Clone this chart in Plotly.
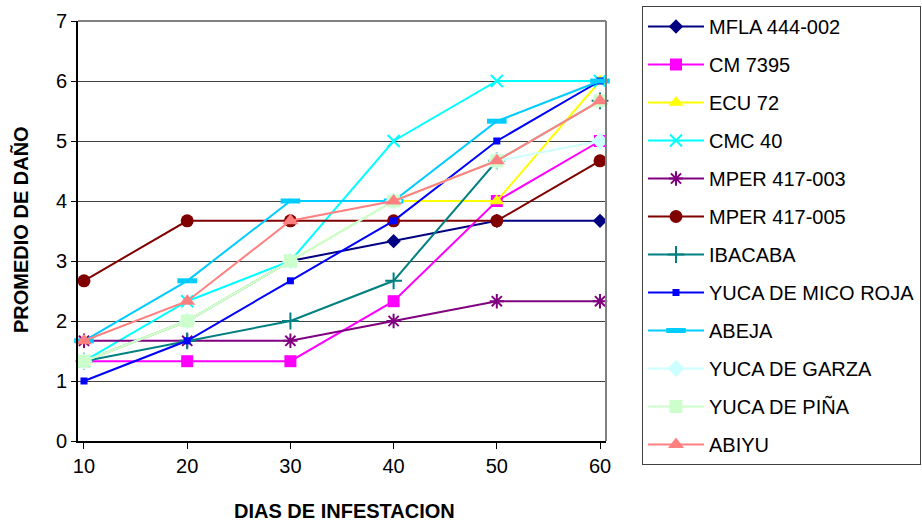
import plotly.graph_objects as go

dias = [10, 20, 30, 40, 50, 60]

series_names = ["MFLA 444-002", "CM 7395", "ECU 72", "CMC 40", "MPER 417-003",
                "MPER 417-005", "IBACABA", "YUCA DE MICO ROJA", "ABEJA",
                "YUCA DE GARZA", "YUCA DE PIÑA", "ABIYU"]

mfla_444_002 = [1.33, 2.0, 3.0, 3.33, 3.67, 3.67]
cm_7395 = [1.33, 1.33, 1.33, 2.33, 4.0, 5.0]
ecu_72 = [1.33, 2.0, 3.0, 4.0, 4.0, 6.0]
cmc_40 = [1.33, 2.33, 3.0, 5.0, 6.0, 6.0]
mper_417_003 = [1.67, 1.67, 1.67, 2.0, 2.33, 2.33]
mper_417_005 = [2.67, 3.67, 3.67, 3.67, 3.67, 4.67]
ibacaba = [1.33, 1.67, 2.0, 2.67, 4.67, 5.67]
yuca_mico_roja = [1.0, 1.67, 2.67, 3.67, 5.0, 6.0]
abeja = [1.67, 2.67, 4.0, 4.0, 5.33, 6.0]
yuca_garza = [1.33, 2.0, 3.0, 4.0, 4.67, 5.0]
yuca_pina = [1.33, 2.0, 3.0, 4.0, 4.67, 5.67]
abiyu = [1.67, 2.33, 3.67, 4.0, 4.67, 5.67]

values = [mfla_444_002, cm_7395, ecu_72, cmc_40, mper_417_003, mper_417_005,
          ibacaba, yuca_mico_roja, abeja, yuca_garza, yuca_pina, abiyu]

colors = ["#000080", "#FF00FF", "#FFFF00", "#00FFFF", "#800080", "#800000",
          "#008080", "#0000FF", "#00CCFF", "#CCFFFF", "#CCFFCC", "#FF8080"]

# (symbol, size, marker line width)
markers = [("diamond", 11, 0), ("square", 12, 0), ("triangle-up", 13, 0),
           ("x-thin-open", 12, 2), ("asterisk-open", 12, 2), ("circle", 13, 0),
           ("cross-thin-open", 12, 2), ("square", 7, 0), ("line-ew-open", 14, 5),
           ("diamond", 13, 0), ("square", 13, 0), ("triangle-up", 14, 0)]

FONT = "Arial, Liberation Sans, sans-serif"

fig = go.Figure()
for i, (name, vals, col, mk) in enumerate(zip(series_names, values, colors, markers)):
    sym, size, lw = mk
    fig.add_trace(go.Scatter(
        x=dias, y=vals, name=name, mode="lines+markers",
        line=dict(color=col, width=2),
        marker=dict(symbol=sym, size=size, color=col,
                    line=dict(color=col, width=lw)),
        cliponaxis=False, legendgroup=f"g{i}",
    ))

fig.update_layout(
    width=922, height=522,
    margin=dict(l=78, r=316, t=21, b=81, autoexpand=False),
    paper_bgcolor="white", plot_bgcolor="white",
    font=dict(family=FONT, size=20, color="black"),
    showlegend=True,
    legend=dict(
        xref="container", yref="container",
        x=642 / 922, xanchor="left",
        y=1 - 6 / 522, yanchor="top",
        bordercolor="#404040", borderwidth=1, bgcolor="white",
        font=dict(family=FONT, size=20, color="black"),
        tracegroupgap=9, itemwidth=56, maxheight=520,
    ),
)

fig.update_xaxes(
    range=[9.42, 60.58], tickmode="array", tickvals=dias,
    ticktext=[str(d) for d in dias],
    showgrid=False, zeroline=False,
    showline=True, linecolor="black", linewidth=2,
    ticks="outside", ticklen=6, tickcolor="black", tickwidth=1,
    tickfont=dict(size=20, family=FONT, color="black"),
)
fig.update_yaxes(
    range=[0, 7], dtick=1, tick0=0,
    showgrid=True, gridcolor="#404040", gridwidth=1, zeroline=False,
    showline=True, linecolor="black", linewidth=2,
    ticks="outside", ticklen=5, tickcolor="black", tickwidth=1,
    tickfont=dict(size=20, family=FONT, color="black"),
)

# plot-area border (top and right) in gray
fig.add_shape(type="line", xref="paper", yref="paper", x0=0, x1=1, y0=1, y1=1,
              line=dict(color="#808080", width=2), layer="above")
fig.add_shape(type="line", xref="paper", yref="paper", x0=1, x1=1, y0=0, y1=1,
              line=dict(color="#808080", width=2), layer="above")

fig.add_annotation(text="<b>DIAS DE INFESTACION</b>", xref="paper", yref="paper",
                   x=(344 - 78) / 528, y=0, yshift=-70, showarrow=False,
                   xanchor="center", yanchor="middle",
                   font=dict(size=20, family=FONT, color="black"))
fig.add_annotation(text="<b>PROMEDIO DE DAÑO</b>", xref="paper", yref="paper",
                   x=0, xshift=21 - 78, y=(441 - 230) / 420, showarrow=False,
                   textangle=-90, xanchor="center", yanchor="middle",
                   font=dict(size=20, family=FONT, color="black"))

fig.write_html("out.html")
